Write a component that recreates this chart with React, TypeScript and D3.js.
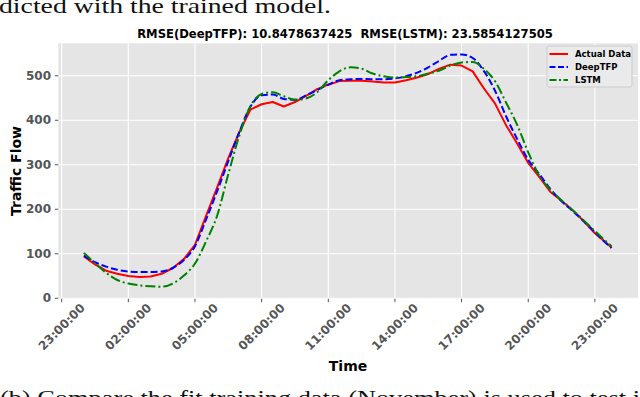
import React from 'react';
import * as d3 from 'd3';

const hours = [0, 0.5, 1, 1.5, 2, 2.5, 3, 3.5, 4, 4.5, 5, 5.5, 6, 6.5, 7, 7.5, 8, 8.5, 9, 9.5, 10, 10.5, 11, 11.5, 12, 12.5, 13, 13.5, 14, 14.5, 15, 15.5, 16, 16.5, 17, 17.5, 18, 18.5, 19, 19.5, 20, 20.5, 21, 21.5, 22, 22.5, 23, 23.5, 23.75];
const actual = [94, 76, 62, 55, 50, 48, 49, 55, 68, 88, 120, 185, 249, 315, 374, 424, 436, 441, 431, 441, 455, 470, 480, 488, 489, 489, 487, 485, 485, 490, 496, 504, 516, 525, 523, 510, 472, 438, 389, 348, 304, 272, 239, 219, 198, 173, 146, 125, 114];
const deepTFP = [96, 81, 71, 64, 60, 59, 59, 60, 68, 86, 117, 177, 241, 308, 374, 431, 456, 458, 448, 446, 456, 468, 480, 490, 492, 493, 492, 492, 494, 499, 507, 519, 534, 547, 548, 540, 511, 467, 409, 358, 311, 279, 245, 218, 196, 173, 149, 124, 113];
const lstm = [102, 79, 57, 41, 33, 29, 27, 26, 33, 51, 78, 128, 186, 279, 366, 432, 459, 463, 454, 446, 449, 463, 490, 510, 519, 516, 505, 499, 496, 497, 499, 505, 512, 523, 530, 531, 516, 488, 440, 390, 328, 275, 244, 220, 198, 175, 151, 128, 117];

const yTicks = [0, 100, 200, 300, 400, 500];
const xTickHours = [-1, 2, 5, 8, 11, 14, 17, 20, 23];
const xTickLabels = ['23:00:00', '02:00:00', '05:00:00', '08:00:00', '11:00:00', '14:00:00', '17:00:00', '20:00:00', '23:00:00'];
const seriesNames = ['Actual Data', 'DeepTFP', 'LSTM'];
const titleText = 'RMSE(DeepTFP): 10.8478637425  RMSE(LSTM): 23.5854127505';
const topCaption = 'dicted with the trained model.';
const bottomCaption = '(b) Compare the fit training data (November) is used to test i';

export default function App() {
  const W = 640, H = 397;
  const L = 58.3, R = 638, T = 43.3, B = 298.7;
  const x = d3.scaleLinear().domain([-1.152, 24.94]).range([L, R]);
  const y = d3.scaleLinear().domain([-1, 573]).range([B, T]);

  const lineLinear = d3.line<number>().x((_, i) => x(hours[i])).y((d) => y(d));
  const lineSmooth = d3.line<number>().x((_, i) => x(hours[i])).y((d) => y(d)).curve(d3.curveMonotoneX);

  const styles = [
    { color: '#ff0000', dash: undefined as string | undefined, legendDash: undefined as string | undefined, path: lineLinear(actual) },
    { color: '#0000ff', dash: '7,3', legendDash: '6,2.5', path: lineSmooth(deepTFP) },
    { color: '#008000', dash: '10,3,2,3', legendDash: '7,2.5,2,2.5', path: lineSmooth(lstm) },
  ];

  const font = "'DejaVu Sans', sans-serif";
  const serif = "'Liberation Serif', 'DejaVu Serif', serif";

  return (
    <svg width={W} height={H} viewBox={`0 0 ${W} ${H}`} style={{ position: 'absolute', left: 0, top: 0, background: '#fff' }}>
      <text x={-1} y={12.7} fontFamily={serif} fontSize={22} fill="#111" textLength={332} lengthAdjust="spacingAndGlyphs">{topCaption}</text>
      <text x={345} y={38.3} textAnchor="middle" fontFamily={font} fontWeight="bold" fontSize={11.6} fill="#000" style={{ whiteSpace: 'pre' }}>{titleText}</text>
      <rect x={L} y={T} width={R - L} height={B - T} fill="#e5e5e5" />
      {yTicks.map((t) => (
        <line key={'gy' + t} x1={L} x2={R} y1={y(t)} y2={y(t)} stroke="#fff" strokeWidth={1.1} />
      ))}
      {xTickHours.map((h, i) => (
        <line key={'gx' + i} x1={x(h)} x2={x(h)} y1={T} y2={B} stroke="#fff" strokeWidth={1.1} />
      ))}
      {styles.map((s, i) => (
        <path key={'s' + i} d={s.path || ''} fill="none" stroke={s.color} strokeWidth={2} strokeDasharray={s.dash} strokeLinejoin="round" />
      ))}
      {yTicks.map((t) => (
        <g key={'ty' + t}>
          <line x1={L - 3.5} x2={L} y1={y(t)} y2={y(t)} stroke="#555" strokeWidth={1} />
          <text x={51} y={y(t)} dy="0.35em" textAnchor="end" fontFamily={font} fontWeight="bold" fontSize={12} fill="#555">{t}</text>
        </g>
      ))}
      {xTickHours.map((h, i) => (
        <g key={'tx' + i}>
          <line x1={x(h)} x2={x(h)} y1={B} y2={B + 3.5} stroke="#555" strokeWidth={1} />
          <text transform={`translate(${x(h)},${327}) rotate(-45)`} textAnchor="middle" dominantBaseline="central" fontFamily={font} fontWeight="bold" fontSize={12} fill="#555">{xTickLabels[i]}</text>
        </g>
      ))}
      <text x={348} y={371} textAnchor="middle" fontFamily={font} fontWeight="bold" fontSize={14} fill="#000">Time</text>
      <text transform={`translate(21,${(T + B) / 2}) rotate(-90)`} textAnchor="middle" fontFamily={font} fontWeight="bold" fontSize={14} fill="#000">Traffic Flow</text>
      <g>
        <rect x={547} y={46} width={85} height={41} rx={2} fill="#eaeaea" stroke="#cccccc" strokeWidth={1} />
        {seriesNames.map((n, i) => (
          <g key={'lg' + i}>
            <line x1={549.5} x2={568} y1={54 + i * 13} y2={54 + i * 13} stroke={styles[i].color} strokeWidth={2} strokeDasharray={styles[i].legendDash} />
            <text x={575} y={54 + i * 13} dy="0.35em" fontFamily={font} fontWeight="bold" fontSize={8.5} fill="#000">{n}</text>
          </g>
        ))}
      </g>
      <text x={0} y={405} fontFamily={serif} fontSize={22} fill="#111" textLength={640} lengthAdjust="spacingAndGlyphs">{bottomCaption}</text>
    </svg>
  );
}
